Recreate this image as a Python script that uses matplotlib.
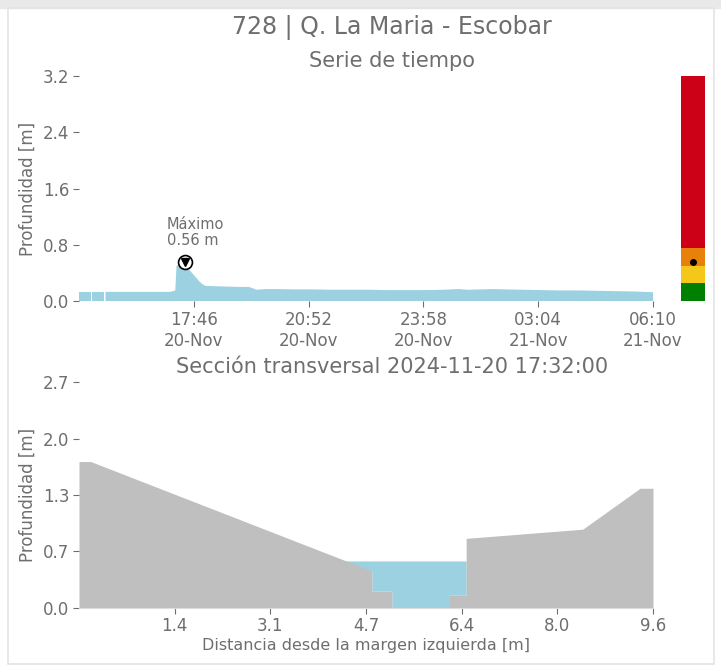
import numpy as np
import pandas as pd
import matplotlib
matplotlib.use("Agg")
import matplotlib.pyplot as plt
import matplotlib.dates as mdates
from matplotlib.patches import Rectangle

# ----------------------------------------------------------------
# Data
# ----------------------------------------------------------------
STATION = "728 | Q. La Maria - Escobar"
PEAK_TIME = "2024-11-20 17:32"
PEAK_DEPTH = 0.56

times = [
    "2024-11-20 14:40", "2024-11-20 14:59", "2024-11-20 15:00", "2024-11-20 15:01",
    "2024-11-20 15:21", "2024-11-20 15:22", "2024-11-20 15:23", "2024-11-20 15:50",
    "2024-11-20 16:20", "2024-11-20 16:50", "2024-11-20 17:08", "2024-11-20 17:12",
    "2024-11-20 17:16", "2024-11-20 17:18", "2024-11-20 17:25", "2024-11-20 17:32",
    "2024-11-20 17:36", "2024-11-20 17:40", "2024-11-20 17:44", "2024-11-20 17:48",
    "2024-11-20 17:52", "2024-11-20 17:56", "2024-11-20 18:00", "2024-11-20 18:05",
    "2024-11-20 18:20", "2024-11-20 18:40", "2024-11-20 19:00", "2024-11-20 19:15",
    "2024-11-20 19:22", "2024-11-20 19:28", "2024-11-20 19:35", "2024-11-20 19:42",
    "2024-11-20 20:00", "2024-11-20 20:30", "2024-11-20 21:00", "2024-11-20 21:30",
    "2024-11-20 22:00", "2024-11-20 22:30", "2024-11-20 23:00", "2024-11-20 23:30",
    "2024-11-21 00:00", "2024-11-21 00:30", "2024-11-21 00:55", "2024-11-21 01:10",
    "2024-11-21 01:30", "2024-11-21 01:50", "2024-11-21 02:10", "2024-11-21 02:40",
    "2024-11-21 03:10", "2024-11-21 03:40", "2024-11-21 04:10", "2024-11-21 04:40",
    "2024-11-21 05:10", "2024-11-21 05:40", "2024-11-21 06:10",
]
depths = [
    0.13, 0.13, np.nan, 0.13,
    0.13, np.nan, 0.13, 0.13,
    0.13, 0.13, 0.13, 0.14,
    0.15, 0.50, 0.53, 0.56,
    0.48, 0.43, 0.39, 0.35,
    0.31, 0.27, 0.24, 0.215,
    0.21, 0.205, 0.20, 0.20,
    0.18, 0.16, 0.165, 0.17,
    0.17, 0.165, 0.165, 0.16,
    0.16, 0.16, 0.155, 0.155,
    0.155, 0.16, 0.17, 0.16,
    0.165, 0.17, 0.165, 0.16,
    0.155, 0.15, 0.15, 0.145,
    0.14, 0.135, 0.125,
]

# alert thresholds (traffic light)
level_bounds = [0.0, 0.25, 0.50, 0.75, 3.2]
level_colors = ["#008000", "#f5c71a", "#e8800c", "#cc0016"]

# cross section (distance [m], ground height [m])
section_x = [-0.2, 0.0, 4.80, 4.80, 5.14, 5.14, 6.11, 6.11, 6.41, 6.41, 8.40, 9.38, 9.60]
section_z = [1.75, 1.75, 0.44, 0.20, 0.20, 0.0, 0.0, 0.15, 0.15, 0.83, 0.94, 1.43, 1.43]
water_level = 0.56

section_xticklabels = ["1.4", "3.1", "4.7", "6.4", "8.0", "9.6"]
section_yticklabels = ["0.0", "0.7", "1.3", "2.0", "2.7"]

# ----------------------------------------------------------------
# Style
# ----------------------------------------------------------------
TXT = "#6e6e6e"
WATER = "#9bd1e1"
GROUND = "#bfbfbf"
plt.rcParams["font.family"] = "DejaVu Sans"
plt.rcParams["text.color"] = TXT
plt.rcParams["axes.labelcolor"] = TXT
plt.rcParams["xtick.color"] = TXT
plt.rcParams["ytick.color"] = TXT


def clean(ax):
    for s in ax.spines.values():
        s.set_visible(False)
    ax.tick_params(labelsize=12, length=4, width=0.8, pad=3)


W, H = 721, 665
fig = plt.figure(figsize=(W / 100, H / 100), dpi=100)

# page card frame
fig.add_artist(Rectangle((0, 1 - 8 / H), 1, 8 / H, transform=fig.transFigure,
                         color="#e9e9e9", zorder=-5))
fig.add_artist(Rectangle((8 / W, 1 / H), 706 / W, (H - 9) / H, transform=fig.transFigure,
                         facecolor="none", edgecolor="#e4e4e4", lw=1.2, zorder=-5))

cx = 392 / W
fig.text(cx, 1 - 28 / H, STATION, ha="center", va="center", fontsize=17)
fig.text(cx, 1 - 61 / H, "Serie de tiempo", ha="center", va="center", fontsize=15)
fig.text(cx, 1 - 367 / H, "Sección transversal 2024-11-20 17:32:00",
         ha="center", va="center", fontsize=15)

# ----------------------------------------------------------------
# Time series
# ----------------------------------------------------------------
ax1 = fig.add_axes([79 / W, 1 - 301 / H, 574 / W, 225 / H])
t = pd.to_datetime(times)
ax1.fill_between(t, 0, depths, color=WATER, lw=0)
ax1.set_xlim(pd.Timestamp("2024-11-20 14:40"), pd.Timestamp("2024-11-21 06:10"))
ax1.set_ylim(0, 3.2)
ax1.set_yticks(np.linspace(0, 3.2, 5))
ax1.set_yticklabels(["0.0", "0.8", "1.6", "2.4", "3.2"])
ticks = pd.date_range("2024-11-20 17:46", "2024-11-21 06:10", freq="186min")
ax1.set_xticks(ticks)
ax1.xaxis.set_major_formatter(mdates.DateFormatter("%H:%M\n%d-%b"))
ax1.set_ylabel("Profundidad [m]", fontsize=12)
clean(ax1)

pk = pd.Timestamp(PEAK_TIME)
ax1.plot([pk], [PEAK_DEPTH], "o", ms=10, mfc="white", mec="black", mew=1.2, zorder=4)
ax1.plot([pk], [PEAK_DEPTH], "v", ms=6, color="black", zorder=5)
ax1.annotate(f"Máximo\n{PEAK_DEPTH:.2f} m", (pk, PEAK_DEPTH), xytext=(-13, 10),
             textcoords="offset points", ha="left", va="bottom", fontsize=10.5,
             linespacing=1.1)

# traffic light
axl = fig.add_axes([681 / W, 1 - 301 / H, 24 / W, 225 / H])
for lo, hi, c in zip(level_bounds[:-1], level_bounds[1:], level_colors):
    axl.bar(0, hi - lo, bottom=lo, width=1, color=c, lw=0)
axl.plot(0, PEAK_DEPTH, "o", ms=4, color="black")
axl.set_xlim(-0.5, 0.5)
axl.set_ylim(0, 3.2)
axl.axis("off")

# ----------------------------------------------------------------
# Cross section
# ----------------------------------------------------------------
ax2 = fig.add_axes([79 / W, 1 - 607.7 / H, 574 / W, 225.5 / H])
ground = np.array(section_z)
ax2.fill_between(section_x, np.minimum(ground, water_level), water_level,
                 color=WATER, lw=0)
ax2.fill_between(section_x, 0, ground, color=GROUND, lw=0)
ax2.set_xlim(-0.2, 9.6)
ax2.set_ylim(0, 2.7)
ax2.set_xticks(np.linspace(-0.2, 9.6, 7)[1:])
ax2.set_xticklabels(section_xticklabels)
ax2.set_yticks(np.linspace(0, 2.7, 5))
ax2.set_yticklabels(section_yticklabels)
ax2.set_xlabel("Distancia desde la margen izquierda [m]", fontsize=11.5, labelpad=2)
ax2.set_ylabel("Profundidad [m]", fontsize=12)
clean(ax2)
ax2.spines["bottom"].set_visible(True)
ax2.spines["bottom"].set_color("#dddddd")
ax2.spines["bottom"].set_linewidth(0.8)

fig.savefig("out.png", dpi=100, facecolor="white")
